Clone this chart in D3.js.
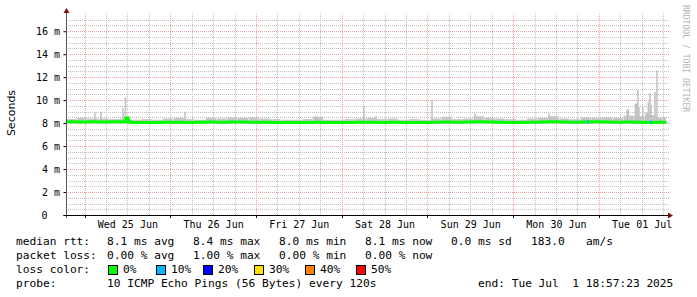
<!DOCTYPE html>
<html><head><meta charset="utf-8">
<script src="https://cdn.jsdelivr.net/npm/d3@7"></script>
<style>
html,body{margin:0;padding:0;background:#fff;}
svg{display:block;}
text{white-space:pre;}
</style></head><body>
<svg id="chart" width="697" height="297"></svg>
<script>
// ---------------- data ----------------
const endTimeUTC = Date.UTC(2025, 6, 1, 18, 57, 23);
const spanHours = 168;
const yTickValues = [0, 2, 4, 6, 8, 10, 12, 14, 16];
const yTickLabels = ["0", "2 m", "4 m", "6 m", "8 m", "10 m", "12 m", "14 m", "16 m"];
const yMaxMs = 17.5;
const dayLabels = ["Wed 25 Jun", "Thu 26 Jun", "Fri 27 Jun", "Sat 28 Jun", "Sun 29 Jun", "Mon 30 Jun", "Tue 01 Jul"];
const binHours = 3;
// median rtt (ms), one value per 3-hour bin
const medianMs = [
  8.12, 8.10, 8.12, 8.10, 8.12, 8.12,
  8.06, 8.05, 8.06, 8.07, 8.08, 8.06,
  8.08, 8.10, 8.08, 8.10, 8.10, 8.08,
  8.08, 8.06, 8.05, 8.05, 8.06, 8.08,
  8.06, 8.05, 8.06, 8.08, 8.07, 8.06,
  8.08, 8.06, 8.05, 8.06, 8.08, 8.10,
  8.08, 8.10, 8.12, 8.10, 8.08, 8.06,
  8.06, 8.08, 8.10, 8.12, 8.10, 8.08,
  8.10, 8.12, 8.10, 8.08, 8.10, 8.08,
  8.06, 8.08
];
// upper edge of the smoke (ms), one value per 3-hour bin
const smokeHighMs = [
  8.35, 8.45, 8.40, 8.40, 8.35, 8.40,
  8.30, 8.35, 8.30, 8.40, 8.45, 8.35,
  8.30, 8.45, 8.40, 8.50, 8.45, 8.50,
  8.40, 8.35, 8.30, 8.30, 8.35, 8.55,
  8.30, 8.30, 8.35, 8.40, 8.45, 8.35,
  8.40, 8.30, 8.35, 8.30, 8.40, 8.55,
  8.35, 8.40, 8.60, 8.45, 8.40, 8.35,
  8.30, 8.40, 8.45, 8.60, 8.40, 8.35,
  8.50, 8.45, 8.50, 8.45, 8.65, 8.60,
  8.70, 8.50
];
// lower edge of the smoke (ms)
const smokeLowMs = [
  7.98, 7.98, 7.99, 7.98, 7.98, 7.97,
  7.97, 7.96, 7.97, 7.97, 7.98, 7.97,
  7.98, 7.98, 7.97, 7.98, 7.98, 7.97,
  7.97, 7.96, 7.96, 7.96, 7.97, 7.97,
  7.97, 7.96, 7.97, 7.97, 7.97, 7.96,
  7.97, 7.96, 7.96, 7.97, 7.97, 7.98,
  7.97, 7.98, 7.98, 7.98, 7.97, 7.96,
  7.96, 7.97, 7.98, 7.98, 7.98, 7.97,
  7.98, 7.98, 7.98, 7.97, 7.98, 7.97,
  7.96, 7.97
];
// isolated slow pings (hours after start, ms)
const spikeHours = [7.98, 9.66, 15.82, 16.52, 33.18, 69.86, 83.3, 86.66, 102.34, 114.38, 135.1,
  157.0, 157.3, 159.3, 159.6, 160.0, 160.3, 161.4, 162.3, 162.6, 162.9, 163.38, 163.66, 164.78, 165.34];
const spikeMs = [8.96, 9.0, 9.3, 10.25, 9.0, 8.6, 9.4, 8.6, 10.0, 8.85, 8.85,
  9.2, 9.2, 9.7, 9.7, 10.9, 9.4, 9.4, 8.9, 8.9, 9.8, 10.6, 9.6, 10.7, 12.6];
// short median excursion
const bumpHours = [16.4, 16.6, 17.3, 17.5];
const bumpMs = [8.08, 8.45, 8.45, 8.08];
// samples with packet loss (hours after start, loss %)
const lossHours = [146.0, 163.7];
const lossPct = [10, 10];
const lossLevels = ["0%", "10%", "20%", "30%", "40%", "50%"];
const lossColors = ["#00ff00", "#00b8ff", "#0000ff", "#ffe000", "#ff8000", "#ff0000"];
const rttStats = ["8.1 ms avg", "8.4 ms max", "8.0 ms min", "8.1 ms now", "0.0 ms sd", "183.0", "am/s"];
const lossStats = ["0.00 % avg", "1.00 % max", "0.00 % min", "0.00 % now"];
const probeText = "10 ICMP Echo Pings (56 Bytes) every 120s";
const endText = "end: Tue Jul  1 18:57:23 2025";

// ---------------- drawing ----------------
const svg = d3.select("#chart");
const startUTC = endTimeUTC - spanHours * 3600e3;
const hToDate = h => new Date(startUTC + h * 3600e3);
const L = 66.5, R = 666.5, B = 215, T = 13;
const x = d3.scaleUtc().domain([new Date(startUTC), new Date(endTimeUTC)]).range([L, R]);
const y = d3.scaleLinear().domain([0, yMaxMs]).range([B, B - 201]);
const mono = "'DejaVu Sans Mono', monospace";
const majorGrid = "#f0a0a0", minorGrid = "#c0c0c0";

// dotted-line patterns (one lit pixel every two pixels)
const defs = svg.append("defs");
function dotPattern(id, color, horiz) {
  const p = defs.append("pattern").attr("id", id).attr("patternUnits", "userSpaceOnUse")
    .attr("x", 0).attr("y", 0).attr("width", horiz ? 2 : 1).attr("height", horiz ? 1 : 2);
  p.append("rect").attr("x", 0).attr("y", 0).attr("width", 1).attr("height", 1).attr("fill", color);
}
dotPattern("minH", minorGrid, true);
dotPattern("minV", minorGrid, false);
dotPattern("majH", majorGrid, true);
dotPattern("majV", majorGrid, false);

const grid = svg.append("g").attr("shape-rendering", "crispEdges");
const gx1 = 67, gx2 = 669;
const minorY = d3.range(0.5, 17.01, 0.5).filter(v => v % 2 !== 0);
const sixHours = d3.utcHour.every(6).range(hToDate(0), new Date(endTimeUTC)).filter(d => d.getUTCHours() !== 0);
const midnights = d3.utcDay.range(hToDate(0), new Date(endTimeUTC));
grid.selectAll(".gy").data(minorY).join("rect")
  .attr("x", gx1).attr("width", gx2 - gx1).attr("y", d => Math.round(y(d))).attr("height", 1)
  .attr("fill", "url(#minH)");
grid.selectAll(".gx").data(sixHours).join("rect")
  .attr("x", d => Math.round(x(d))).attr("width", 1).attr("y", T).attr("height", B - T)
  .attr("fill", "url(#minV)");
grid.selectAll(".my").data(yTickValues.slice(1)).join("rect")
  .attr("x", gx1).attr("width", gx2 - gx1).attr("y", d => Math.round(y(d))).attr("height", 1)
  .attr("fill", "url(#majH)");
grid.selectAll(".mx").data(midnights).join("rect")
  .attr("x", d => Math.round(x(d))).attr("width", 1).attr("y", T).attr("height", B - T)
  .attr("fill", "url(#majV)");

// smoke
const smoke = svg.append("g").attr("fill", "#c6c6c6");
smoke.selectAll("rect").data(smokeHighMs).join("rect")
  .attr("x", (d, i) => x(hToDate(i * binHours)))
  .attr("width", (d, i) => x(hToDate((i + 1) * binHours)) - x(hToDate(i * binHours)) - 0.5)
  .attr("y", d => y(d))
  .attr("height", (d, i) => y(smokeLowMs[i]) - y(d));
svg.append("g").attr("fill", "#c0c0c0").selectAll("rect").data(spikeHours).join("rect")
  .attr("x", d => x(hToDate(d)) - 0.75).attr("width", 1.5)
  .attr("y", (d, i) => y(spikeMs[i]))
  .attr("height", (d, i) => y(8.2) - y(spikeMs[i]));

// median line
const medPts = [];
medianMs.forEach((v, i) => { medPts.push([i * binHours, v]); medPts.push([Math.min((i + 1) * binHours, spanHours), v]); });
const line = d3.line().x(d => x(hToDate(d[0]))).y(d => y(d[1]));
svg.append("path").attr("d", line(medPts)).attr("fill", "none").attr("stroke", lossColors[0]).attr("stroke-width", 3);
svg.append("path").attr("d", line(bumpHours.map((h, i) => [h, bumpMs[i]])))
  .attr("fill", "none").attr("stroke", lossColors[0]).attr("stroke-width", 3);
// loss marks
svg.selectAll(".loss").data(lossHours).join("rect")
  .attr("x", d => x(hToDate(d)) - 0.75).attr("width", 1.5)
  .attr("y", (d, i) => y(medianMs[Math.floor(d / binHours)]) - 2)
  .attr("height", 4)
  .attr("fill", (d, i) => lossColors[lossLevels.indexOf(lossPct[i] + "%")]);

// axes
const yAxis = svg.append("g").attr("transform", `translate(${L},0)`)
  .call(d3.axisLeft(y).tickValues(yTickValues).tickFormat((d, i) => yTickLabels[i]).tickSize(3).tickPadding(3.5));
yAxis.select(".domain").remove();
yAxis.selectAll("text").attr("font-family", mono).attr("font-size", 10).attr("fill", "#000")
  .attr("dx", d => d === 0 ? -12.5 : 0);
yAxis.selectAll("line").attr("stroke", "#000");
const noons = midnights.map(d => new Date(+d + 12 * 3600e3));
const xAxis = svg.append("g").attr("transform", `translate(0,${B})`)
  .call(d3.axisBottom(x).tickValues(noons).tickFormat((d, i) => dayLabels[i]).tickSize(0).tickPadding(6));
xAxis.select(".domain").remove();
xAxis.selectAll("text").attr("font-family", mono).attr("font-size", 10).attr("fill", "#000");
svg.append("g").selectAll("line").data(midnights).join("line")
  .attr("x1", d => Math.round(x(d)) + 0.5).attr("x2", d => Math.round(x(d)) + 0.5)
  .attr("y1", B).attr("y2", B + 3).attr("stroke", "#000");
// axis lines & arrows
svg.append("line").attr("x1", L).attr("x2", L).attr("y1", B + 3).attr("y2", 11).attr("stroke", "#555");
svg.append("line").attr("x1", L - 3).attr("x2", 669).attr("y1", B + 0.5).attr("y2", B + 0.5).attr("stroke", "#000");
svg.append("path").attr("d", `M${L - 3},13 L${L + 3},13 L${L},8 Z`).attr("fill", "#7f1010");
svg.append("path").attr("d", `M668,${B - 2.5} L668,${B + 3.5} L673,${B + 0.5} Z`).attr("fill", "#7f1010");

// titles
svg.append("text").attr("transform", "translate(15,113) rotate(-90)").attr("text-anchor", "middle")
  .attr("font-family", "'DejaVu Sans', sans-serif").attr("font-size", 11).attr("fill", "#000").text("Seconds");
svg.append("text").attr("transform", "translate(683,5) rotate(90)").attr("text-anchor", "start")
  .attr("font-family", mono).attr("font-size", 8.1).attr("fill", "#b4b4b4").text("RRDTOOL / TOBI OETIKER");

// legend
const lg = svg.append("g").attr("font-family", mono).attr("font-size", 11.2).attr("fill", "#000");
const rttX = [107, 193, 279, 365, 451, 531, 586];
lg.append("text").attr("x", 16).attr("y", 245).text("median rtt:");
rttStats.forEach((t, i) => lg.append("text").attr("x", rttX[i]).attr("y", 245).text(t));
lg.append("text").attr("x", 16).attr("y", 259).text("packet loss:");
lossStats.forEach((t, i) => lg.append("text").attr("x", rttX[i]).attr("y", 259).text(t));
lg.append("text").attr("x", 16).attr("y", 273).text("loss color:");
const boxX = [108, 156, 203, 254, 305, 356];
lossLevels.forEach((t, i) => {
  lg.append("rect").attr("x", boxX[i] + 0.5).attr("y", 265.5).attr("width", 9).attr("height", 9)
    .attr("fill", lossColors[i]).attr("stroke", "#000");
  lg.append("text").attr("x", boxX[i] + 15).attr("y", 273).text(t);
});
lg.append("text").attr("x", 16).attr("y", 287).text("probe:");
lg.append("text").attr("x", 107).attr("y", 287).text(probeText);
lg.append("text").attr("x", 478).attr("y", 287).text(endText);
</script>
</body></html>
